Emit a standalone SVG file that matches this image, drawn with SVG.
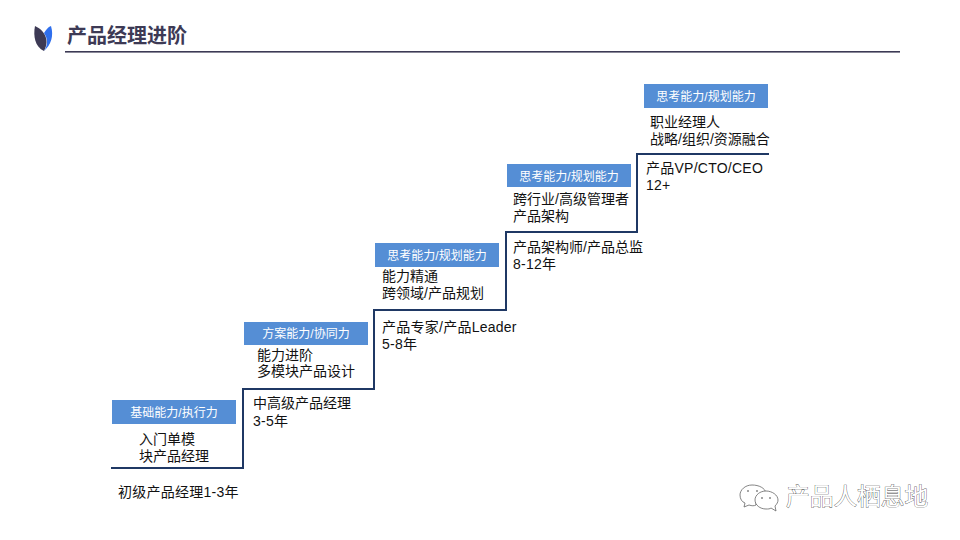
<svg xmlns="http://www.w3.org/2000/svg" width="960" height="540" viewBox="0 0 960 540">
<style>
text{font-family:"Liberation Sans","Noto Sans CJK SC",sans-serif}
.b{fill:#558ed5}
.bt{fill:#fff;font-size:12px;text-anchor:middle}
.t{fill:#111;font-size:14px}
.l{letter-spacing:.25px}
.title{fill:#3d3a55;font-size:20px;font-weight:bold}
.wm{fill:#fff;stroke:#444;stroke-width:.7px;font-size:23.7px;paint-order:stroke}
</style>
<rect width="960" height="540" fill="#fff"/>
<g id="logo">
<path d="M44 51C35 47 33 36 35 26C42 29 51 38 44 51Z" fill="#3d3a55"/>
<path d="M44 51C51 45 54 36 51 26C48 27 46 30 44 33C48 39 48 45 44 51Z" fill="#2f6fed"/>
</g>
<g id="title"><text class="title" x="67" y="43">产品经理进阶</text></g>
<rect x="65" y="51" width="835" height="1.6" fill="#3d3a55"/>
<g id="connectors"><path d="M111 468H243V389H374V310H506V232H637V154H769" fill="none" stroke="#1f3864" stroke-width="2"/></g>
<g id="step1">
<rect class="b" x="112" y="400" width="124" height="24"/><text class="bt" x="174" y="416.5">基础能力/执行力</text>
<text class="t" x="139" y="443.7">入门单模</text><text class="t" x="139" y="460.7">块产品经理</text>
<text class="t l" x="118" y="496.7">初级产品经理1-3年</text>
</g>
<g id="step2">
<rect class="b" x="244" y="322" width="124" height="23"/><text class="bt" x="306" y="338">方案能力/协同力</text>
<text class="t" x="257" y="359.7">能力进阶</text><text class="t" x="257" y="375.7">多模块产品设计</text>
<text class="t" x="253" y="407.7">中高级产品经理</text><text class="t l" x="253" y="425.7">3-5年</text>
</g>
<g id="step3">
<rect class="b" x="375" y="243" width="124" height="24"/><text class="bt" x="437" y="259.5">思考能力/规划能力</text>
<text class="t" x="382" y="280.7">能力精通</text><text class="t" x="382" y="297.7">跨领域/产品规划</text>
<text class="t l" x="382" y="331.7">产品专家/产品Leader</text><text class="t l" x="382" y="348.7">5-8年</text>
</g>
<g id="step4">
<rect class="b" x="507" y="164" width="124" height="23"/><text class="bt" x="569" y="180.5">思考能力/规划能力</text>
<text class="t" x="513" y="203.7">跨行业/高级管理者</text><text class="t" x="513" y="220.7">产品架构</text>
<text class="t" x="513" y="251.7">产品架构师/产品总监</text><text class="t l" x="513" y="268.7">8-12年</text>
</g>
<g id="step5">
<rect class="b" x="644" y="84" width="124" height="24"/><text class="bt" x="706" y="100.5">思考能力/规划能力</text>
<text class="t" x="650" y="126.7">职业经理人</text><text class="t" x="650" y="143.7">战略/组织/资源融合</text>
<text class="t l" x="646" y="172.7">产品VP/CTO/CEO</text><text class="t l" x="646" y="189.7">12+</text>
</g>
<g id="watermark">
<g fill="#fff" stroke="#666" stroke-width=".8">
<path d="M752 485C745 485 740 490 740 495C740 499 742 502 745 503L744 507L749 505C752 506 754 506 756 505C755 498 760 493 766 493C765 488 759 485 752 485Z"/>
<path d="M766 491C760 491 755 495 755 500C755 505 760 509 766 509C768 509 770 509 771 508L776 511L775 506C777 504 778 502 778 500C778 495 772 491 766 491Z"/>
</g>
<circle cx="748" cy="491" r="1" fill="#888"/><circle cx="757" cy="491" r="1" fill="#888"/><circle cx="762" cy="498" r="1" fill="#888"/><circle cx="770" cy="498" r="1" fill="#888"/>
<text class="wm" x="786" y="505">产品人栖息地</text>
</g>
</svg>
